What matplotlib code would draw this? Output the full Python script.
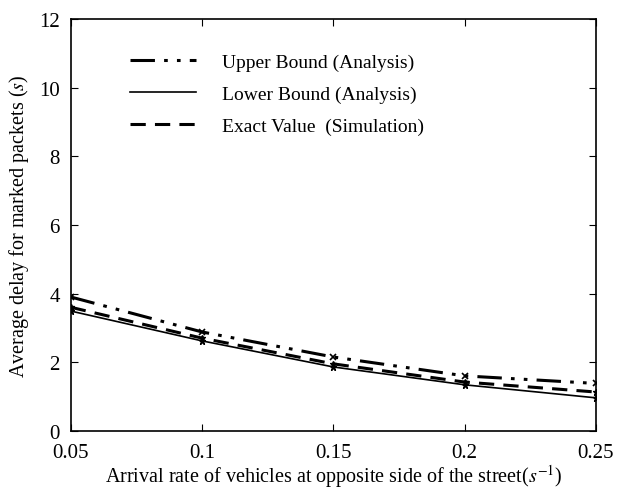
import numpy as np
import matplotlib
matplotlib.use('Agg')
import matplotlib.pyplot as plt

plt.rcParams['font.family'] = 'Liberation Serif'
plt.rcParams['mathtext.fontset'] = 'stix'
plt.rcParams['font.size'] = 14

rate = [0.05, 0.1, 0.15, 0.2, 0.25]
upper = [3.9, 2.88, 2.15, 1.6, 1.38]
lower = [3.49, 2.62, 1.86, 1.34, 0.96]
exact = [3.6, 2.7, 1.95, 1.42, 1.13]

fig = plt.figure(figsize=(6.32, 4.89), dpi=100)
ax = fig.add_axes([0.112, 0.117, 0.831, 0.842])

ax.plot(rate, upper, color='black', lw=2.2, dashes=[8, 3, 1.2, 3, 1.2, 3],
        marker='x', ms=5, mew=1.2, label='Upper Bound (Analysis)')
ax.plot(rate, lower, color='black', lw=1.2, marker='*', ms=5,
        label='Lower Bound (Analysis)')
ax.plot(rate, exact, color='black', lw=2.2, dashes=[5, 3], marker='*', ms=5,
        label='Exact Value  (Simulation)')

ax.set_xlim(0.05, 0.25)
ax.set_ylim(0, 12)
ax.set_xticks(rate)
ax.set_xticklabels(['0.05', '0.1', '0.15', '0.2', '0.25'])
ax.set_yticks(range(0, 13, 2))
ax.tick_params(direction='in', top=True, right=True, length=5, labelsize=15)
ax.tick_params(axis='x', pad=9)
ax.tick_params(axis='y', pad=8)
for s in ax.spines.values():
    s.set_linewidth(1.2)

ax.set_xlabel('Arrival rate of vehicles at opposite side of the street($s^{-1}$)',
              fontsize=14.5, labelpad=0)
ax.set_ylabel('Average delay for marked packets ($s$)', fontsize=14.5, labelpad=6)

leg = ax.legend(loc='upper left', bbox_to_anchor=(0.08, 0.96), frameon=False,
                handlelength=3.4, handletextpad=1.3, labelspacing=0.75, fontsize=14)
for h in leg.legend_handles:
    h.set_marker('')

fig.savefig('out.png', dpi=100)
